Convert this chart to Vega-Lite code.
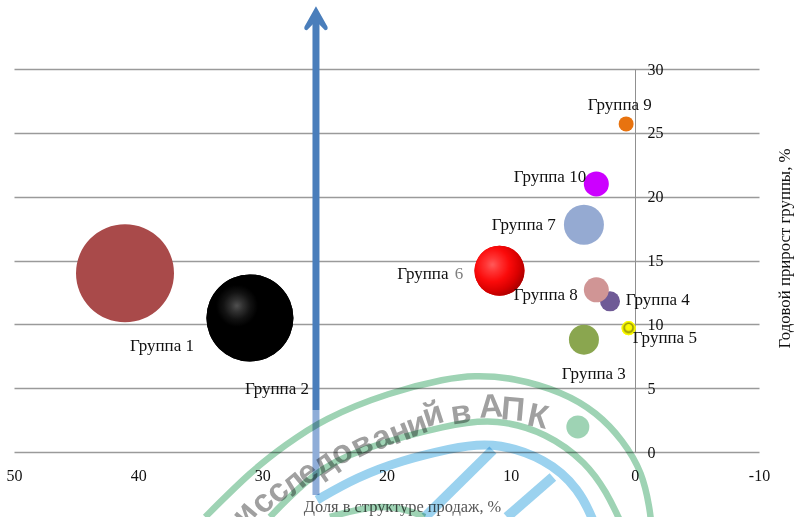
{
"$schema":"https://vega.github.io/schema/vega-lite/v6.json",
"width":745,"height":383,
"autosize":"none",
"padding":{"left":14,"top":69,"right":36,"bottom":65},
"background":"#ffffff",
"config":{"view":{"stroke":null},"text":{"font":"Liberation Serif"}},
"datasets":{
"bubbles":[
{"group":"Группа 1","share":41.06,"growth":14.0,"bubble":96},
{"group":"Группа 2","share":31.0,"growth":10.5,"bubble":75.7},
{"group":"Группа 3","share":4.1,"growth":8.8,"bubble":9},
{"group":"Группа 4","share":2.0,"growth":11.8,"bubble":4},
{"group":"Группа 5","share":0.5,"growth":9.7,"bubble":2},
{"group":"Группа 6","share":10.9,"growth":14.2,"bubble":25},
{"group":"Группа 7","share":4.1,"growth":17.8,"bubble":16},
{"group":"Группа 8","share":3.1,"growth":12.7,"bubble":6.25},
{"group":"Группа 9","share":0.7,"growth":25.7,"bubble":2.25},
{"group":"Группа 10","share":3.1,"growth":21.0,"bubble":6.25}
],
"labels":[
{"label":"Группа 1","lx":38.08,"ly":8.30},
{"label":"Группа 2","lx":28.82,"ly":4.93},
{"label":"Группа 3","lx":3.30,"ly":6.11},
{"label":"Группа 4","lx":-1.85,"ly":11.90},
{"label":"Группа 5","lx":-2.42,"ly":8.93},
{"label":"Группа","lx":17.07,"ly":13.94},
{"label":"Группа 7","lx":8.94,"ly":17.78},
{"label":"Группа 8","lx":7.17,"ly":12.29},
{"label":"Группа 9","lx":1.21,"ly":27.17},
{"label":"Группа 10","lx":6.84,"ly":21.53}
],
"arcs":[
{"arc":"outer","i":1,"ax":34.6,"ay":-5.09},{"arc":"outer","i":2,"ax":30.8,"ay":-1.41},{"arc":"outer","i":3,"ax":28.2,"ay":0.5},{"arc":"outer","i":4,"ax":25.12,"ay":2.6},{"arc":"outer","i":5,"ax":19.73,"ay":4.7},{"arc":"outer","i":6,"ax":15.14,"ay":5.75},{"arc":"outer","i":7,"ax":13.04,"ay":6.0},{"arc":"outer","i":8,"ax":9.82,"ay":5.85},{"arc":"outer","i":9,"ax":5.80,"ay":4.7},{"arc":"outer","i":10,"ax":3.06,"ay":3.1},{"arc":"outer","i":11,"ax":0.97,"ay":0.94},{"arc":"outer","i":12,"ax":-0.64,"ay":-1.64},{"arc":"outer","i":13,"ax":-1.21,"ay":-4.54},{"arc":"outer","i":14,"ax":-1.29,"ay":-5.33},
{"arc":"inner","i":1,"ax":29.39,"ay":-5.09},{"arc":"inner","i":2,"ax":25.93,"ay":-1.64},{"arc":"inner","i":3,"ax":22.38,"ay":0.2},{"arc":"inner","i":4,"ax":14.90,"ay":2.2},{"arc":"inner","i":5,"ax":11.11,"ay":2.6},{"arc":"inner","i":6,"ax":7.09,"ay":1.5},{"arc":"inner","i":7,"ax":3.86,"ay":-0.86},{"arc":"inner","i":8,"ax":2.25,"ay":-3.21},{"arc":"inner","i":9,"ax":1.21,"ay":-5.33},
{"arc":"low","i":1,"ax":24.56,"ay":-5.09},{"arc":"low","i":2,"ax":21.34,"ay":-4.23},{"arc":"low","i":3,"ax":18.92,"ay":-4.31},{"arc":"low","i":4,"ax":16.9,"ay":-5.09}
],
"bluearcs":[
{"arc":"ring","i":1,"ax":25.6,"ay":-3.76},{"arc":"ring","i":2,"ax":22.38,"ay":-1.96},{"arc":"ring","i":3,"ax":18.68,"ay":-0.63},{"arc":"ring","i":4,"ax":14.9,"ay":0.25},{"arc":"ring","i":5,"ax":11.67,"ay":0.85},{"arc":"ring","i":6,"ax":7.09,"ay":-0.5},{"arc":"ring","i":7,"ax":4.43,"ay":-2.98},{"arc":"ring","i":8,"ax":3.38,"ay":-5.33},
{"arc":"spoke1","i":1,"ax":11.43,"ay":0.16},{"arc":"spoke1","i":2,"ax":16.9,"ay":-5.09},
{"arc":"spoke2","i":1,"ax":6.6,"ay":-1.96},{"arc":"spoke2","i":2,"ax":10.3,"ay":-5.09}
],
"letters":[
{"ch":"и","tx":31.4,"ty":-4.85,"rot":-50},
{"ch":"с","tx":29.98,"ty":-3.96,"rot":-46},
{"ch":"с","tx":28.77,"ty":-3.1,"rot":-43},
{"ch":"л","tx":27.48,"ty":-2.4,"rot":-40},
{"ch":"е","tx":26.35,"ty":-1.64,"rot":-37},
{"ch":"д","tx":25.0,"ty":-0.86,"rot":-35},
{"ch":"о","tx":23.6,"ty":-0.08,"rot":-31},
{"ch":"в","tx":21.98,"ty":0.55,"rot":-27},
{"ch":"а","tx":20.37,"ty":1.1,"rot":-24},
{"ch":"н","tx":18.92,"ty":1.57,"rot":-22},
{"ch":"и","tx":17.55,"ty":2.11,"rot":-20},
{"ch":"й","tx":16.26,"ty":2.9,"rot":-18},
{"ch":"в","tx":14.0,"ty":3.05,"rot":-8},
{"ch":"А","tx":11.6,"ty":3.52,"rot":-3},
{"ch":"П","tx":9.82,"ty":3.29,"rot":5},
{"ch":"К","tx":7.8,"ty":2.74,"rot":12}
],
"arrow":[
{"ax":25.68,"from":3.29,"to":33.83,"part":"upper"},
{"ax":25.68,"from":-3.37,"to":3.29,"part":"lower"}
]
},
"encoding":{},
"layer":[
{"data":{"name":"bubbles"},"mark":{"type":"circle","opacity":0},
 "encoding":{
 "x":{"field":"share","type":"quantitative","scale":{"domain":[50,-10]},
  "axis":{"values":[50,40,30,20,10,0,-10],"grid":false,"domain":false,"ticks":false,"labelPadding":15,"labelFont":"Liberation Serif","labelFontSize":16,"labelColor":"#111111","labelFlush":false,"labelOverlap":false,"labelExpr":"replace(datum.label,'−','-')",
  "title":"Доля в структуре продаж, %","titleFont":"Liberation Serif","titleFontSize":16.4,"titleFontWeight":"normal","titleColor":"#555555","titleX":388,"titleY":46}},
 "y":{"field":"growth","type":"quantitative","scale":{"domain":[0,30]},
  "axis":{"orient":"right","offset":-124,"values":[0,5,10,15,20,25,30],"grid":true,"gridColor":"#9a9a9a","gridWidth":1.3,"domain":true,"domainColor":"#909090","ticks":false,"labelPadding":12,"labelFont":"Liberation Serif","labelFontSize":16,"labelColor":"#111111","labelOverlap":false,
  "title":"Годовой прирост группы, %","titleFont":"Liberation Serif","titleFontSize":16.8,"titleFontWeight":"normal","titleColor":"#111111","titleAngle":-90,"titleX":158,"titleY":179}}
 }},
{"data":{"name":"arrow"},"mark":{"type":"rule","strokeWidth":7},
 "encoding":{
 "x":{"field":"ax","type":"quantitative"},
 "y":{"field":"from","type":"quantitative"},
 "y2":{"field":"to"},
 "color":{"field":"part","type":"nominal","legend":null,"scale":{"domain":["upper","lower"],"range":["#4a7ebb","#8fadd8"]}}
 }},
{"data":{"values":[{"ax":25.68,"ay":33.98}]},"mark":{"type":"point","filled":true,"opacity":1,"size":576,"color":"#4a7ebb","shape":"M0,-1 L0.95,0.7 Q1.05,1 0.75,1 L0.2,0.45 L-0.2,0.45 L-0.75,1 Q-1.05,1 -0.95,0.7 Z"},
 "encoding":{"x":{"field":"ax","type":"quantitative"},"y":{"field":"ay","type":"quantitative"}}},
{"data":{"name":"bubbles"},"mark":{"type":"circle","opacity":1},
 "encoding":{
 "x":{"field":"share","type":"quantitative"},
 "y":{"field":"growth","type":"quantitative"},
 "size":{"field":"bubble","type":"quantitative","legend":null,"scale":{"domain":[0,100],"range":[0,10000]}},
 "fill":{"field":"group","type":"nominal","legend":null,"scale":{"domain":["Группа 1","Группа 2","Группа 3","Группа 4","Группа 5","Группа 6","Группа 7","Группа 8","Группа 9","Группа 10"],"range":["#a94a4a","#000000","#8aa64f","#6f5a96","#ffff00","#e00000","#95aad2","#d09595","#e8730f","#cc00ff"]}}
 }},
{"data":{"name":"bubbles"},"transform":[{"filter":"datum.group==='Группа 2'"}],
 "mark":{"type":"circle","opacity":1,"fill":{"gradient":"radial","x1":0.35,"y1":0.36,"r1":0,"x2":0.35,"y2":0.36,"r2":0.24,"stops":[{"offset":0,"color":"#505050"},{"offset":0.3,"color":"#303030"},{"offset":0.65,"color":"#121212"},{"offset":1,"color":"#000000"}]}},
 "encoding":{"x":{"field":"share","type":"quantitative"},"y":{"field":"growth","type":"quantitative"},
 "size":{"field":"bubble","type":"quantitative","legend":null,"scale":{"domain":[0,100],"range":[0,10000]}}}},
{"data":{"name":"bubbles"},"transform":[{"filter":"datum.group==='Группа 6'"}],
 "mark":{"type":"circle","opacity":1,"fill":{"gradient":"radial","x1":0.36,"y1":0.38,"r1":0,"x2":0.36,"y2":0.38,"r2":0.68,"stops":[{"offset":0,"color":"#ff5a5a"},{"offset":0.2,"color":"#ff3535"},{"offset":0.5,"color":"#fb0a0a"},{"offset":0.78,"color":"#d80000"},{"offset":1,"color":"#a80000"}]}},
 "encoding":{"x":{"field":"share","type":"quantitative"},"y":{"field":"growth","type":"quantitative"},
 "size":{"field":"bubble","type":"quantitative","legend":null,"scale":{"domain":[0,100],"range":[0,10000]}}}},
{"data":{"name":"bubbles"},"transform":[{"filter":"datum.group==='Группа 5'"}],
 "mark":{"type":"circle","opacity":1,"fill":{"gradient":"radial","x1":0.5,"y1":0.42,"r1":0,"x2":0.5,"y2":0.5,"r2":0.5,"stops":[{"offset":0,"color":"#ffff00"},{"offset":0.45,"color":"#f6f600"},{"offset":0.58,"color":"#8f8f10"},{"offset":0.72,"color":"#b5b500"},{"offset":0.85,"color":"#f8f800"},{"offset":1,"color":"#ffff00"}]}},
 "encoding":{"x":{"field":"share","type":"quantitative"},"y":{"field":"growth","type":"quantitative"},
 "size":{"field":"bubble","type":"quantitative","legend":null,"scale":{"domain":[0,100],"range":[0,10000]}}}},
{"data":{"name":"labels"},"mark":{"type":"text","font":"Liberation Serif","fontSize":17,"color":"#111111"},
 "encoding":{"x":{"field":"lx","type":"quantitative"},"y":{"field":"ly","type":"quantitative"},"text":{"field":"label"}}},
{"data":{"values":[{"lx":14.17,"ly":13.94,"label":"6"}]},"mark":{"type":"text","font":"Liberation Serif","fontSize":17,"color":"#808080"},
 "encoding":{"x":{"field":"lx","type":"quantitative"},"y":{"field":"ly","type":"quantitative"},"text":{"field":"label"}}},
{"data":{"name":"bluearcs"},"transform":[{"filter":"datum.arc==='ring'"}],"mark":{"type":"line","interpolate":"basis","stroke":"#9bd2ef","strokeWidth":9,"blend":"multiply"},
 "encoding":{"x":{"field":"ax","type":"quantitative"},"y":{"field":"ay","type":"quantitative"},"order":{"field":"i"}}},
{"data":{"name":"bluearcs"},"transform":[{"filter":"datum.arc!=='ring'"}],"mark":{"type":"line","stroke":"#9bd2ef","strokeWidth":10,"blend":"multiply"},
 "encoding":{"x":{"field":"ax","type":"quantitative"},"y":{"field":"ay","type":"quantitative"},"detail":{"field":"arc"},"order":{"field":"i"}}},
{"data":{"name":"arcs"},"mark":{"type":"line","interpolate":"basis","stroke":"#9ed3b4","strokeWidth":6.5,"blend":"multiply"},
 "encoding":{"x":{"field":"ax","type":"quantitative"},"y":{"field":"ay","type":"quantitative"},"detail":{"field":"arc"},"order":{"field":"i"}}},
{"data":{"values":[{"ax":4.59,"ay":1.96}]},"mark":{"type":"circle","size":529,"color":"#9ed3b4","opacity":1,"blend":"multiply"},
 "encoding":{"x":{"field":"ax","type":"quantitative"},"y":{"field":"ay","type":"quantitative"}}},
{"data":{"name":"letters"},"mark":{"type":"text","font":"Liberation Sans","fontWeight":"bold","fontSize":33,"color":"#a0a0a0","blend":"multiply","baseline":"middle","align":"center"},
 "encoding":{"x":{"field":"tx","type":"quantitative"},"y":{"field":"ty","type":"quantitative"},"text":{"field":"ch"},"angle":{"field":"rot","type":"quantitative","scale":null}}}
]
}
